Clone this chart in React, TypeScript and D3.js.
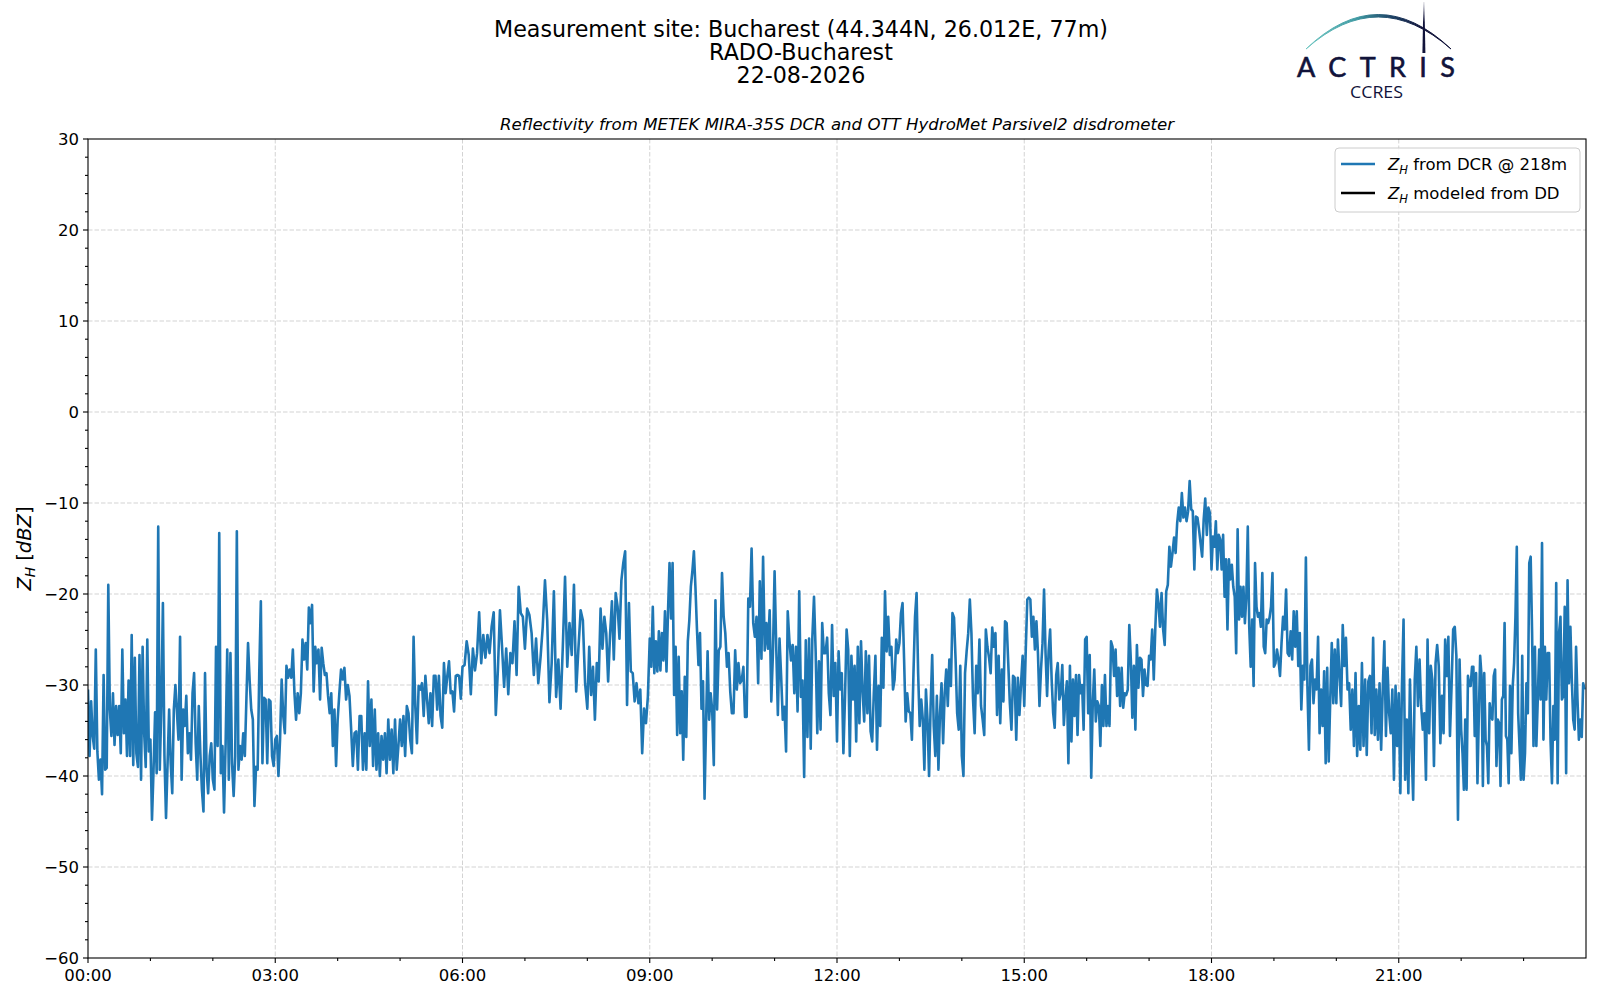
import * as d3 from "d3";
import React from "react";

// figure layout (px)
const W = 1600;
const H = 1000;
const plotLeft = 88;
const plotRight = 1586;
const plotTop = 139;
const plotBottom = 958;
const FONT = "'DejaVu Sans', sans-serif";

const titleLines = [
  "Measurement site: Bucharest (44.344N, 26.012E, 77m)",
  "RADO-Bucharest",
  "22-08-2026",
];
const subtitle = "Reflectivity from METEK MIRA-35S DCR and OTT HydroMet Parsivel2 disdrometer";
const legendLabels = ["from DCR @ 218m", "modeled from DD"];
const legendColors = ["#1f77b4", "#000000"];

const dayStart = new Date(Date.UTC(2026, 7, 22));
const dayEnd = new Date(Date.UTC(2026, 7, 23));
const yMin = -60;
const yMax = 30;

// Z_H from DCR, read hour by hour off the picture (dBZ); each inner list covers one hour
const dcr00to03 = [
  [-30.5, -37.8, -31.8, -35.6, -37, -26.1, -37.3, -40.4, -38.2, -42, -28.9, -39.3, -39.1, -19, -32.7, -35.6, -30.9, -36.6, -32.3, -35.5,
   -32.3, -37.5, -26.1, -35.3, -31.6, -37.8, -29.5, -37.8, -24.5, -38.8, -27, -37.5, -39, -26.7, -40.4, -25.8, -35.3, -39, -25, -37.3],
  [-36, -44.8, -39.3, -33, -39.7, -12.6, -39.3, -32.3, -21, -37.8, -44.6, -38.6, -32.7, -38.6, -41.9, -32.7, -30, -33, -36, -24.7,
   -40.4, -32.7, -34.5, -31.2, -37.5, -35.3, -38.2, -30.9, -28.7, -36.4, -40.4, -32.3, -37.5, -41.5, -43.9, -28.7, -39.3, -41.9, -37.8, -36.4],
  [-40.4, -41.5, -25.8, -36.7, -13.3, -39.7, -36.7, -44, -36.4, -26.1, -40.4, -26.5, -38.6, -42.2, -37.8, -13.1, -39.3, -36.7, -38.2, -35.3,
   -37.8, -31.4, -25.4, -29.5, -32.7, -33.8, -43.3, -39, -39.3, -28.7, -20.8, -38.6, -31.4, -31.6, -38.6, -31.6, -31.8, -37.8, -38.9],
];
const dcr03to06 = [
  [-36, -35.6, -40, -36, -29.4, -33.4, -35.3, -27.9, -29.2, -28.3, -29.2, -26.1, -30.9, -33.8, -30.9, -33.1, -30.9, -25, -27.2, -25.4,
   -28.3, -21.5, -23.2, -21.2, -30.7, -25.8, -27.6, -26.1, -31.6, -25.9, -27.6, -28.9, -28.7, -31.2, -33.1, -30.9, -36.7, -32.7, -38.9],
  [-33.8, -30.9, -28.3, -29.4, -28.1, -31.6, -30, -31.2, -34.9, -38.9, -35.3, -35.1, -39.3, -33.4, -33.4, -39.3, -35.3, -39.3, -29.6, -36.7,
   -31.6, -38.9, -32.7, -39.3, -35.3, -40, -35.6, -38.2, -35.3, -39.7, -33.8, -38.2, -34.9, -39.7, -33.8, -39.3, -36.7],
  [-33.8, -36.7, -33.4, -37.8, -32.3, -33.1, -36, -37.5, -24.7, -32.3, -36.4, -30.1, -30.5, -29.8, -33.4, -29, -31.6, -34.2, -30.9, -34.5,
   -29, -29, -32.7, -29, -33.4, -34.7, -27.6, -30.9, -29, -27.4, -30.9, -30.7, -32.9, -29, -28.9, -29, -31.5],
];
const dcr06to09 = [
  [-28, -27.8, -25.2, -26.7, -31, -26, -28.4, -26.5, -22, -27.6, -24.5, -27, -24.5, -26.5, -23.6, -22, -33.3, -28.4, -21.8, -25.8,
   -30.2, -26, -31, -26.5, -27.6, -23, -28.9, -19.2, -22.1, -22.5],
  [-26, -21.6, -22.3, -24.3, -28.9, -24.9, -29.8, -27, -23.6, -18.5, -22.9, -31.9, -27.6, -19.7, -31.3, -27.2, -32.6, -25.8, -18.1, -28,
   -23.2, -26.7, -19, -30.7, -26, -21.8, -22.9, -29.8],
  [-32.6, -25.8, -31.1, -28, -33.8, -27.6, -29.6, -21.6, -26, -22.5, -24.3, -29.6, -24.5, -20.8, -27.2, -19.9, -21.4, -24.9, -18.5, -16.6,
   -15.3, -32.2, -21, -28.5, -28.7, -31.8, -29.8, -32, -30.5, -37.5, -32.6, -34.2, -31.3],
];
const dcr09to12 = [
  [-24.9, -28, -21.4, -28.7, -25.2, -28.5, -24.1, -28.4, -24.3, -27.3, -21.9, -28.5, -21.9, -16.6, -22.7, -16.6, -31.1, -25.8, -35.5, -26.9,
   -35.3, -30.7, -38.2, -29.1, -35.7, -25.2, -22.9, -19.2, -17.5, -15.3, -19.2, -23.8, -27.8, -24.3, -32.6, -29.6, -42.5, -34.2, -26.3, -33.8, -30.9],
  [-32.7, -38.8, -20.7, -32.7, -26.2, -25.8, -17.7, -22.5, -24.3, -28, -26.5, -30.7, -33.1, -33.1, -26.2, -30.5, -27.6, -29.8, -29.5, -28,
   -33.5, -33.5, -20.5, -21.4, -15, -23.2, -24.7, -22.5, -29.8, -18.6, -27.1, -15.9, -26.2, -23.2, -26, -21.8, -31.8, -26.5],
  [-17.5, -25.8, -33.3, -24.9, -29.1, -33.8, -32.4, -37.3, -21.9, -25.1, -27.3, -25.6, -30.9, -25.8, -32.9, -19.7, -31.3, -29.5, -40.1, -25.1,
   -35.7, -24.9, -37, -24.7, -20.3, -26.3, -35.3, -27.4, -34.9, -23.2, -26.5, -26.5, -24.8, -30.9, -33.3, -23.4, -31.2, -27.6],
];
const dcr12to15 = [
  [-36.2, -26.3, -30.5, -28.7, -37.5, -31.4, -23.9, -26.1, -37.8, -26.8, -31.6, -27.9, -36.2, -25.8, -34.2, -25.2, -30.7, -34, -26.3, -33.1,
   -26.8, -35.1, -36.2, -30.9, -26.8, -37.1, -30.1, -34.5, -24.8, -30.3, -19.7, -26.3, -22.5, -26.7, -25.8, -30.5, -29.4, -25, -26.5],
  [-25.4, -22.1, -21, -27.2, -34, -30.9, -32.9, -33.1, -36, -28.7, -22.5, -19.9, -28.7, -34.5, -31.6, -33.8, -39.3, -30.5, -33.8, -40,
   -32.3, -26.7, -34.5, -37.8, -31.2, -39.3, -33.1, -29.8, -36.4, -30.9, -28.3, -32.3, -27.2, -30.1, -22.1, -22.6, -27.2, -33.1, -34.9, -27.9],
  [-37.8, -40, -28.7, -26.3, -24.3, -20.6, -24.3, -31.6, -35.3, -27.9, -30.9, -25, -32.3, -33.8, -35.5, -23.9, -25.8, -27, -28.7, -23.7,
   -25.8, -24.3, -33.3, -26.8, -34.2, -28.3, -31.8, -23, -23.2, -27.6, -32, -34.9, -29, -29.2, -36, -29.2, -33.3, -29.8, -26.8],
];
const dcr15to18 = [
  [-32.3, -26.1, -20.6, -20.4, -20.6, -24.7, -22.5, -26.1, -23, -26.5, -32.3, -28.3, -25.4, -19.5, -26.5, -31.2, -26.3, -23.9, -29.4, -33.1,
   -34.7, -28.9, -27.6, -31.6, -30.9, -27.8, -34.4, -31.6, -29.6, -38.6, -27.9, -36.2, -29.4, -33.4, -28.9, -35.5, -28.9, -30.9, -30, -34.9, -25],
  [-24.7, -33.1, -26.7, -40.2, -32, -28.3, -34, -31.8, -32.3, -36.7, -30, -34.5, -28.9, -34.5, -32.3, -34.5, -25.2, -25.8, -29, -26.1,
   -31.2, -28.1, -32.3, -28.1, -32.5, -30.9, -31.1, -30.5, -23.4, -27.2, -33.6, -27.9, -34.9, -25.6, -30.3, -27, -27.2, -31.2, -28.3, -30, -30.1],
  [-26.8, -27.2, -23.9, -29.4, -23.7, -19.5, -21, -23.6, -19.9, -23.9, -25.6, -19.7, -19, -14.8, -17, -15.5, -13.8, -15.5, -12.2, -10.5,
   -12, -8.9, -11.6, -10.5, -12, -10.9, -7.6, -10.7, -10.9, -17.3, -11.5, -11.6, -12.9, -14.4, -15.9, -11.8, -9.5, -13.5, -10.5, -11.1],
];
const dcr18to21 = [
  [-17.3, -13.7, -14.8, -12, -17.3, -13.5, -14, -17.3, -13.5, -20.3, -16.2, -23.9, -16.2, -18.4, -16.8, -19.2, -20.3, -26.5, -12.9, -22.8,
   -19.2, -22.5, -19.2, -23.2, -20.3, -12.6, -23.6, -28, -22.8, -30.1, -16.6, -21.4, -22.5, -22.1, -23.6, -17.7, -25.8, -26.5, -22.8, -23.2,
   -22.6, -21.4, -17.7],
  [-28, -27.6, -26.1, -27.2, -29, -25.4, -22.5, -23.9, -19.5, -26.5, -26.8, -24.1, -27.2, -21.9, -25.8, -21.9, -27.9, -24.3, -32.7, -27.9,
   -29.4, -16, -30.1, -37.1, -27.9, -27.2, -32, -29.4, -30.5, -24.7, -35.3, -30.5, -34.5, -28.5, -38.6, -28.1, -38.4, -31.6, -25.4, -32, -26.1],
  [-32, -25, -29, -32.3, -23.4, -27.9, -24.8, -30.5, -29.8, -34.9, -30.5, -36.7, -28.7, -37.8, -32.3, -37.1, -27.6, -36.7, -29.4, -37.7,
   -29.6, -29, -35.3, -24.8, -35.5, -30.5, -36, -29.8, -37.1, -30.5, -25.2, -35.6, -28.1, -33.1, -35.3, -30.5, -40.4, -30.1, -36.7],
];
const dcr21to24 = [
  [-30.9, -41.9, -30.1, -22.8, -40.4, -33.8, -41.9, -29.4, -36.7, -42.6, -29.4, -25.8, -32.3, -27.2, -32.3, -34.9, -33.1, -40.4, -25, -35.3,
   -27.9, -29.4, -38.9, -27.6, -25.6, -27.9, -36.4, -31.2, -35.3, -25, -29, -24.7, -35.6, -30.1, -23.9, -23.6, -26.8, -44.8, -27.2],
  [-34.9, -37.5, -41.5, -33.8, -41.5, -29, -30.1, -30.1, -28, -28, -35.6, -28.7, -40.8, -33.4, -26.8, -29, -41.1, -28.7, -36, -36.7,
   -40.8, -32, -33.4, -33.8, -29, -28.3, -38.9, -33.8, -34.2, -41.1, -31.6, -31.2, -23.2, -35.6, -36, -40.8, -30.1, -37.5, -30.1, -27.6,
   -22.5, -14.8, -33.1, -36.7, -40.4, -26.8],
  [-40.4, -37.5, -29.8, -33.1, -16.6, -15.9, -24.3, -36.7, -25.8, -36.7, -31.6, -26.1, -31.6, -14.4, -36, -25.8, -31.6, -26.5, -26.5, -36,
   -40.8, -32.3, -36, -18.8, -40.8, -24.3, -22.5, -31.6, -31.2, -21.4, -39.7, -18.5, -29.8, -23.6, -29.5, -33.8, -34.9, -25.8, -31.6, -36,
   -33.8, -35.7, -29.8, -30.5],
];

type Sample = { t: Date; v: number };

const blocks = [dcr00to03, dcr03to06, dcr06to09, dcr09to12, dcr12to15, dcr15to18, dcr18to21, dcr21to24];
const samples: Sample[] = blocks.flatMap((block, b) =>
  block.flatMap((hour, h) =>
    hour.map((v, i) => ({
      t: new Date(dayStart.getTime() + (b * 3 + h + i / hour.length) * 3600e3),
      v,
    }))
  )
);

function ZH({ size }: { size: number }) {
  return (
    <>
      <tspan fontStyle="italic">Z</tspan>
      <tspan fontStyle="italic" fontSize={size * 0.7} dy={size * 0.22}>H</tspan>
      <tspan dy={-size * 0.22}> </tspan>
    </>
  );
}

function Logo() {
  const navy = "#11133a";
  return (
    <g>
      <defs>
        <linearGradient id="arcGrad" x1="1306" x2="1451" y1="0" y2="0" gradientUnits="userSpaceOnUse">
          <stop offset="0" stopColor="#72c8c3" />
          <stop offset="0.35" stopColor="#3f9aa3" />
          <stop offset="0.6" stopColor="#1c3f63" />
          <stop offset="0.8" stopColor={navy} />
          <stop offset="1" stopColor={navy} />
        </linearGradient>
        <linearGradient id="barGrad" x1="0" x2="0" y1="2" y2="53" gradientUnits="userSpaceOnUse">
          <stop offset="0" stopColor={navy} stopOpacity="0.15" />
          <stop offset="0.4" stopColor={navy} />
          <stop offset="1" stopColor={navy} />
        </linearGradient>
      </defs>
      {/* crescent arc: thicker in the middle, thin at both ends */}
      <path d="M1306,49 Q1378,-15 1451,49 Q1378,-20 1306,49 Z" fill="url(#arcGrad)" stroke="url(#arcGrad)" strokeWidth={1} />
      <path d="M1423.4,2 L1424.4,2 L1425.4,53 L1422.4,53 Z" fill="url(#barGrad)" />
      <text x={1297} y={77} fontFamily="Lato, 'Open Sans', sans-serif" fontSize={27} fill={navy}
        stroke={navy} strokeWidth={0.6} textLength={158} lengthAdjust="spacing">ACTRIS</text>
      <text x={1350} y={98} fontFamily="'Open Sans', Lato, sans-serif" fontSize={16.5} fill={navy}
        textLength={53} lengthAdjust="spacingAndGlyphs">CCRES</text>
    </g>
  );
}

export default function App() {
  const x = d3.scaleUtc().domain([dayStart, dayEnd]).range([plotLeft, plotRight]);
  const y = d3.scaleLinear().domain([yMin, yMax]).range([plotBottom, plotTop]);
  const line = d3.line<Sample>().x(d => x(d.t)).y(d => y(d.v));

  const xMajor = d3.utcHour.every(3)!.range(dayStart, dayEnd);
  const xMinor = d3.utcHour.range(dayStart, dayEnd).filter(d => d.getUTCHours() % 3 !== 0);
  const yMajor = d3.range(yMin, yMax + 1, 10);
  const yMinor = d3.range(yMin, yMax + 1, 2).filter(v => v % 10 !== 0);
  const fmt = d3.utcFormat("%H:%M");
  const tickFont = 16.5;

  const legendX = 1335;
  const legendY = 148;

  return (
    <svg width={W} height={H} style={{ position: "absolute", left: 0, top: 0, background: "white" }}
      fontFamily={FONT}>
      <defs>
        <clipPath id="plotClip">
          <rect x={plotLeft} y={plotTop} width={plotRight - plotLeft} height={plotBottom - plotTop} />
        </clipPath>
      </defs>

      {titleLines.map((t, i) => (
        <text key={t} x={801} y={36.5 + i * 23.2} textAnchor="middle" fontSize={22.2} fill="#000">{t}</text>
      ))}
      <text x={(plotLeft + plotRight) / 2} y={130} textAnchor="middle" fontSize={16.6} fontStyle="italic">{subtitle}</text>

      <Logo />

      {/* grid */}
      <g stroke="#d3d3d3" strokeWidth={1} strokeDasharray="4.5,2">
        {xMajor.slice(1).map(d => (
          <line key={+d} x1={x(d)} x2={x(d)} y1={plotTop} y2={plotBottom} />
        ))}
        {yMajor.slice(1, -1).map(v => (
          <line key={v} x1={plotLeft} x2={plotRight} y1={y(v)} y2={y(v)} />
        ))}
      </g>

      <path d={line(samples) ?? ""} fill="none" stroke="#1f77b4" strokeWidth={2.6}
        strokeLinejoin="round" clipPath="url(#plotClip)" />

      <rect x={plotLeft} y={plotTop} width={plotRight - plotLeft} height={plotBottom - plotTop}
        fill="none" stroke="#000" strokeWidth={1.1} />

      {/* x axis */}
      <g stroke="#000" strokeWidth={1.1}>
        {xMajor.map(d => <line key={+d} x1={x(d)} x2={x(d)} y1={plotBottom} y2={plotBottom + 5} />)}
        {xMinor.map(d => <line key={+d} x1={x(d)} x2={x(d)} y1={plotBottom} y2={plotBottom + 3} />)}
      </g>
      {xMajor.map(d => (
        <text key={+d} x={x(d)} y={981} textAnchor="middle" fontSize={tickFont}>{fmt(d)}</text>
      ))}

      {/* y axis */}
      <g stroke="#000" strokeWidth={1.1}>
        {yMajor.map(v => <line key={v} x1={plotLeft - 5} x2={plotLeft} y1={y(v)} y2={y(v)} />)}
        {yMinor.map(v => <line key={v} x1={plotLeft - 3} x2={plotLeft} y1={y(v)} y2={y(v)} />)}
      </g>
      {yMajor.map(v => (
        <text key={v} x={plotLeft - 9} y={y(v)} dy="0.36em" textAnchor="end" fontSize={tickFont}>
          {v < 0 ? "\u2212" + Math.abs(v) : String(v)}
        </text>
      ))}
      <text transform={`translate(31, ${(plotTop + plotBottom) / 2}) rotate(-90)`} textAnchor="middle"
        fontSize={19.5}>
        <ZH size={19.5} />
        <tspan>[</tspan>
        <tspan fontStyle="italic">dBZ</tspan>
        <tspan>]</tspan>
      </text>

      {/* legend */}
      <rect x={legendX} y={legendY} width={245} height={64} rx={4} fill="white" fillOpacity={0.8}
        stroke="#cccccc" strokeWidth={1} />
      {legendLabels.map((lab, i) => (
        <g key={lab}>
          <line x1={legendX + 6} x2={legendX + 40} y1={legendY + 16 + i * 29} y2={legendY + 16 + i * 29}
            stroke={legendColors[i]} strokeWidth={2.5} />
          <text x={legendX + 53} y={legendY + 22 + i * 29} fontSize={16.5}>
            <ZH size={16.5} />
            <tspan>{lab}</tspan>
          </text>
        </g>
      ))}
    </svg>
  );
}
